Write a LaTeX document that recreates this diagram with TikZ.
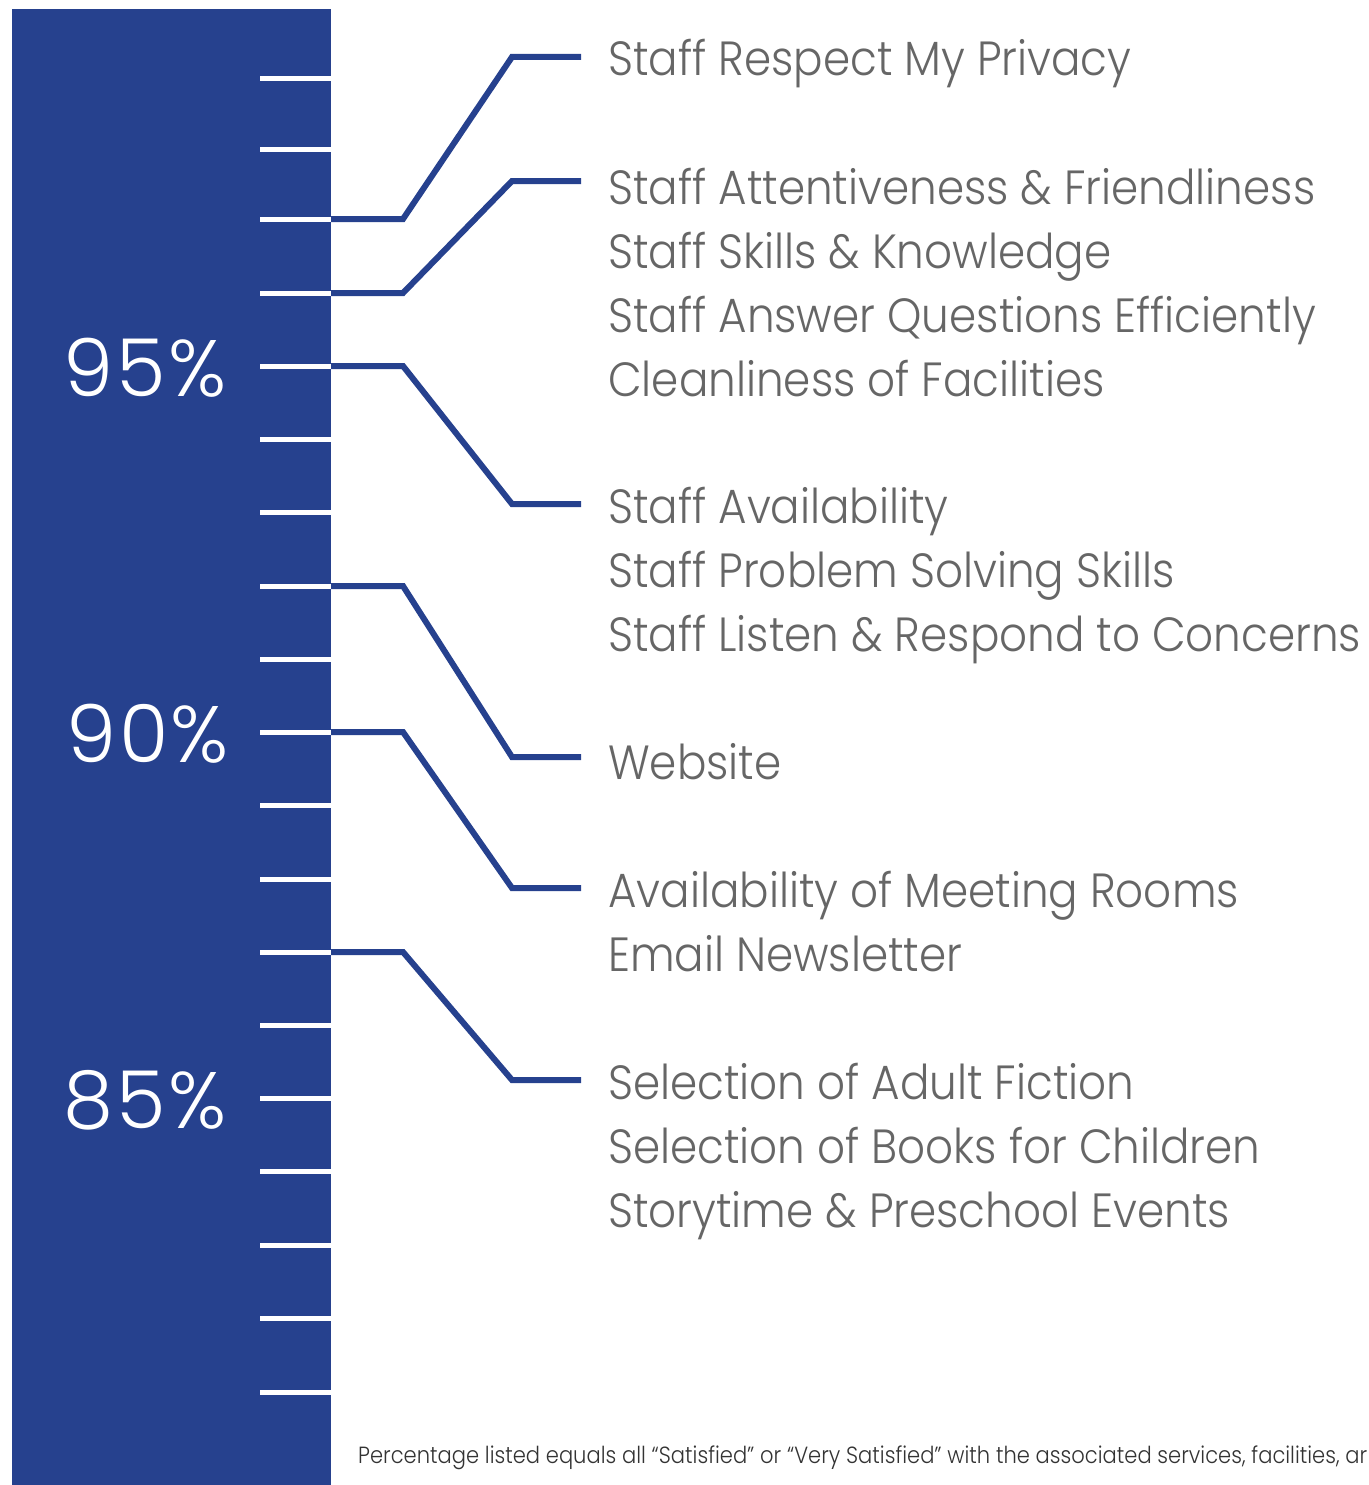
\documentclass[tikz,border=0pt]{standalone}
\usepackage{fontspec}
\setmainfont{Poppins Light}
\newfontfamily\labfont{Poppins Light}[FakeStretch=0.91]
\newfontfamily\notefont{Poppins Light}[FakeStretch=0.9]
\newfontfamily\pctfont{Poppins Light}[LetterSpace=3]
\definecolor{barblue}{RGB}{38,65,142}
\definecolor{txtgray}{RGB}{102,102,102}
\tikzset{
  tickline/.style={draw=white, line width=5pt},
  conn/.style={draw=barblue, line width=6pt, line join=miter},
  lbl/.style={anchor=base west, inner sep=0pt, text=txtgray, font=\labfont\fontsize{48}{64}\selectfont, align=left},
  pct/.style={anchor=base, inner sep=0pt, text=white, font=\pctfont\fontsize{80}{80}\selectfont},
  note/.style={anchor=base west, inner sep=0pt, text=black!80, font=\notefont\fontsize{23.4}{26}\selectfont}
}
\begin{document}
\begin{tikzpicture}[x=1pt,y=-1pt]
\useasboundingbox (0,0) rectangle (1368,1485);
\fill[barblue] (12,9) rectangle (331,1485) coordinate (barcorner);
\foreach \yy [count=\i] in {79,149,219,293,366,439,512,586,659,732,805,879,952,1025,1098,1171,1245,1318,1392}
  { \draw[tickline] (260,\yy) coordinate (s\i) -- (331,\yy) coordinate (t\i); }

\node[pct] (p95) at (145,396) {95\%};
\node[pct] (p90) at (148,762) {90\%};
\node[pct] (p85) at (145,1128) {85\%};

\coordinate (e1) at (581,57);
\coordinate (e2) at (581,181);
\coordinate (e3) at (581,504);
\coordinate (e4) at (581,757);
\coordinate (e5) at (581,888);
\coordinate (e6) at (581,1080);

\node[lbl] (g1) at (608,76) {Staff Respect My Privacy};
\node[lbl] (g2) at (608,204) {Staff Attentiveness \& Friendliness};
\node[lbl] (g2b) at (608,268) {Staff Skills \& Knowledge};
\node[lbl] (g2c) at (608,332) {Staff Answer Questions Efficiently};
\node[lbl] (g2d) at (608,396) {Cleanliness of Facilities};
\node[lbl] (g3) at (608,523) {Staff Availability};
\node[lbl] (g3b) at (608,587) {Staff Problem Solving Skills};
\node[lbl] (g3c) at (608,651) {Staff Listen \& Respond to Concerns};
\node[lbl] (g4) at (608,779) {Website};
\node[lbl] (g5) at (608,907) {Availability of Meeting Rooms};
\node[lbl] (g5b) at (608,971) {Email Newsletter};
\node[lbl] (g6) at (608,1099) {Selection of Adult Fiction};
\node[lbl] (g6b) at (608,1163) {Selection of Books for Children};
\node[lbl] (g6c) at (608,1227) {Storytime \& Preschool Events};

\draw[conn] (t3) -- ++(72,0) -- ([xshift=-69pt]e1) -- (e1);
\draw[conn] (t4) -- ++(72,0) -- ([xshift=-69pt]e2) -- (e2);
\draw[conn] (t5) -- ++(72,0) -- ([xshift=-69pt]e3) -- (e3);
\draw[conn] (t8) -- ++(72,0) -- ([xshift=-69pt]e4) -- (e4);
\draw[conn] (t10) -- ++(72,0) -- ([xshift=-69pt]e5) -- (e5);
\draw[conn] (t13) -- ++(72,0) -- ([xshift=-69pt]e6) -- (e6);

\node[note] (fn) at (358,1463) {Percentage listed equals all “Satisfied” or “Very Satisfied” with the associated services, facilities, ar};
\end{tikzpicture}
\end{document}
